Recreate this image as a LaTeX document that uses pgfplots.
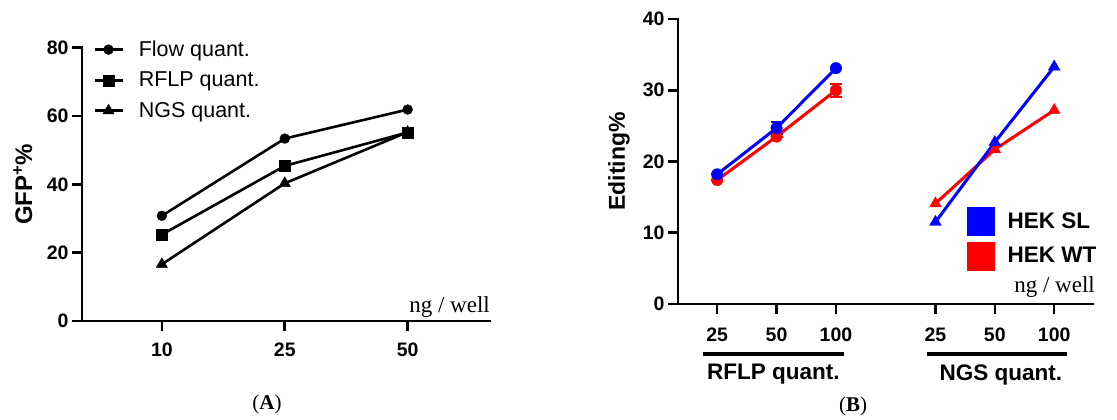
\documentclass[border=0pt]{standalone}
\usepackage{fontspec}
\setmainfont{Liberation Sans}
\newfontfamily\seriffont{Liberation Serif}
\usepackage{pgfplots}
\pgfplotsset{compat=1.18}
\definecolor{myblue}{RGB}{0,0,255}
\definecolor{myred}{RGB}{255,0,0}
\pgfplotsset{
  common/.style={
    scale only axis,
    anchor=south west,
    axis x line*=bottom, axis y line*=left,
    axis line style={line width=2.6pt,-,line cap=rect},
    tick style={line width=2.6pt, black},
    major tick length=10pt,
    tick align=outside,
    clip=false,
    /pgf/number format/assume math mode=true,
    tick label style={font=\bfseries\fontsize{19.5}{21}\selectfont},
    ylabel style={font=\bfseries\fontsize{23}{25}\selectfont},
  }
}
\begin{document}
\begin{tikzpicture}
\useasboundingbox (0,0) rectangle (1117pt,420pt);
% ---------- Panel A ----------
\begin{axis}[common,
  at={(82pt,99pt)}, width=408pt, height=273.3pt,
  xmin=-0.65, xmax=2.67, ymin=0, ymax=80,
  xtick={0,1,2}, xticklabels={10,25,50},
  xticklabel style={yshift=-8pt},
  ytick={0,20,40,60,80},
  ylabel={GFP\textsuperscript{+}\%},
  ylabel style={at={(axis description cs:-0.145,0.5)}, anchor=center, rotate=0, font=\bfseries\fontsize{24}{26}\selectfont},
  legend style={at={(axis description cs:0.027,1.025)}, anchor=north west,
    draw=none, fill=none, inner sep=0pt, row sep=14pt, column sep=15pt,
    font=\fontsize{21.5}{23}\selectfont, nodes={inner sep=0pt}},
  legend image code/.code={\draw[mark repeat=2,mark phase=2] plot coordinates {(0pt,0pt)(14pt,0pt)(28pt,0pt)};},
  legend cell align=left,
]
\addplot[black, line width=2.6pt, mark=*, mark size=5pt, mark options={solid,line width=0.3pt}] coordinates {(0,30.8)(1,53.4)(2,61.9)};
\addplot[black, line width=2.6pt, mark=square*, mark size=5.5pt, mark options={solid,line width=0.3pt}] coordinates {(0,25.3)(1,45.4)(2,55.2)};
\addplot[black, line width=2.6pt, mark=triangle*, mark size=6.6pt, mark options={solid,line width=0.3pt}] coordinates {(0,16.6)(1,40.3)(2,55.3)};
\legend{Flow quant., RFLP quant., NGS quant.}
\node[anchor=base east, font=\seriffont\fontsize{23}{25}\selectfont, inner sep=0pt] at ([yshift=8pt]rel axis cs:1,0) {ng / well};
\end{axis}
% ---------- Panel B ----------
\begin{axis}[common,
  at={(678pt,116pt)}, width=415pt, height=285pt,
  xmin=-0.66, xmax=6.33, ymin=0, ymax=40,
  xtick={0,1,2,3.676,4.676,5.676}, xticklabels={25,50,100,25,50,100},
  xticklabel style={yshift=-10pt},
  ytick={0,10,20,30,40},
  ylabel={Editing\%},
  ylabel style={at={(axis description cs:-0.142,0.5)}, anchor=center, rotate=0},
  legend style={at={(axis description cs:0.6964,0.3404)}, anchor=north west,
    draw=none, fill=none, inner sep=0pt, row sep=6pt, column sep=13pt,
    font=\bfseries\fontsize{22.5}{24}\selectfont, nodes={inner sep=0pt}},
  legend image code/.code={\fill (0pt,-14pt) rectangle (27pt,14pt);},
  legend cell align=left,
]
\addplot[myred, line width=3pt, mark=*, mark size=5.8pt, mark options={solid,line width=0.3pt}, forget plot,
  error bars/.cd, y dir=both, y explicit, error bar style={line width=2pt}, error mark options={rotate=90, mark size=6pt, line width=2pt}]
  coordinates {(0,17.4) +- (0,0) (1,23.5) +- (0,0) (2,30.0) +- (0,0.9)};
\addplot[myblue, line width=3pt, mark=*, mark size=5.8pt, mark options={solid,line width=0.3pt}, forget plot,
  error bars/.cd, y dir=both, y explicit, error bar style={line width=2pt}, error mark options={rotate=90, mark size=6pt, line width=2pt}]
  coordinates {(0,18.2) +- (0,0) (1,24.7) +- (0,0.8) (2,33.1) +- (0,0)};
\addplot[myred, line width=3pt, mark=triangle*, mark size=6.8pt, mark options={solid,line width=0.3pt}, forget plot]
  coordinates {(3.676,14.1)(4.676,21.7)(5.676,27.2)};
\addplot[myblue, line width=3pt, mark=triangle*, mark size=6.8pt, mark options={solid,line width=0.3pt}, forget plot]
  coordinates {(3.676,11.5)(4.676,22.7)(5.676,33.3)};
\addlegendimage{myblue, fill=myblue}
\addlegendentry{HEK SL}
\addlegendimage{myred, fill=myred}
\addlegendentry{HEK WT}
\node[anchor=base east, font=\seriffont\fontsize{23}{25}\selectfont, inner sep=0pt] at ([xshift=2pt,yshift=11pt]rel axis cs:1,0) {ng / well};
\draw[line width=4pt] (axis cs:-0.24,-7) -- (axis cs:2.13,-7);
\draw[line width=4pt] (axis cs:3.53,-7) -- (axis cs:5.89,-7);
\node[font=\bfseries\fontsize{22.5}{24}\selectfont] at (axis cs:0.945,-9.9) {RFLP quant.};
\node[font=\bfseries\fontsize{22.5}{24}\selectfont] at (axis cs:4.78,-9.9) {NGS quant.};
\end{axis}
\node[font=\seriffont\fontsize{21}{23}\selectfont] at (267pt,16pt) {(\textbf{A})};
\node[font=\seriffont\fontsize{21}{23}\selectfont] at (853pt,14pt) {(\textbf{B})};
\end{tikzpicture}
\end{document}
